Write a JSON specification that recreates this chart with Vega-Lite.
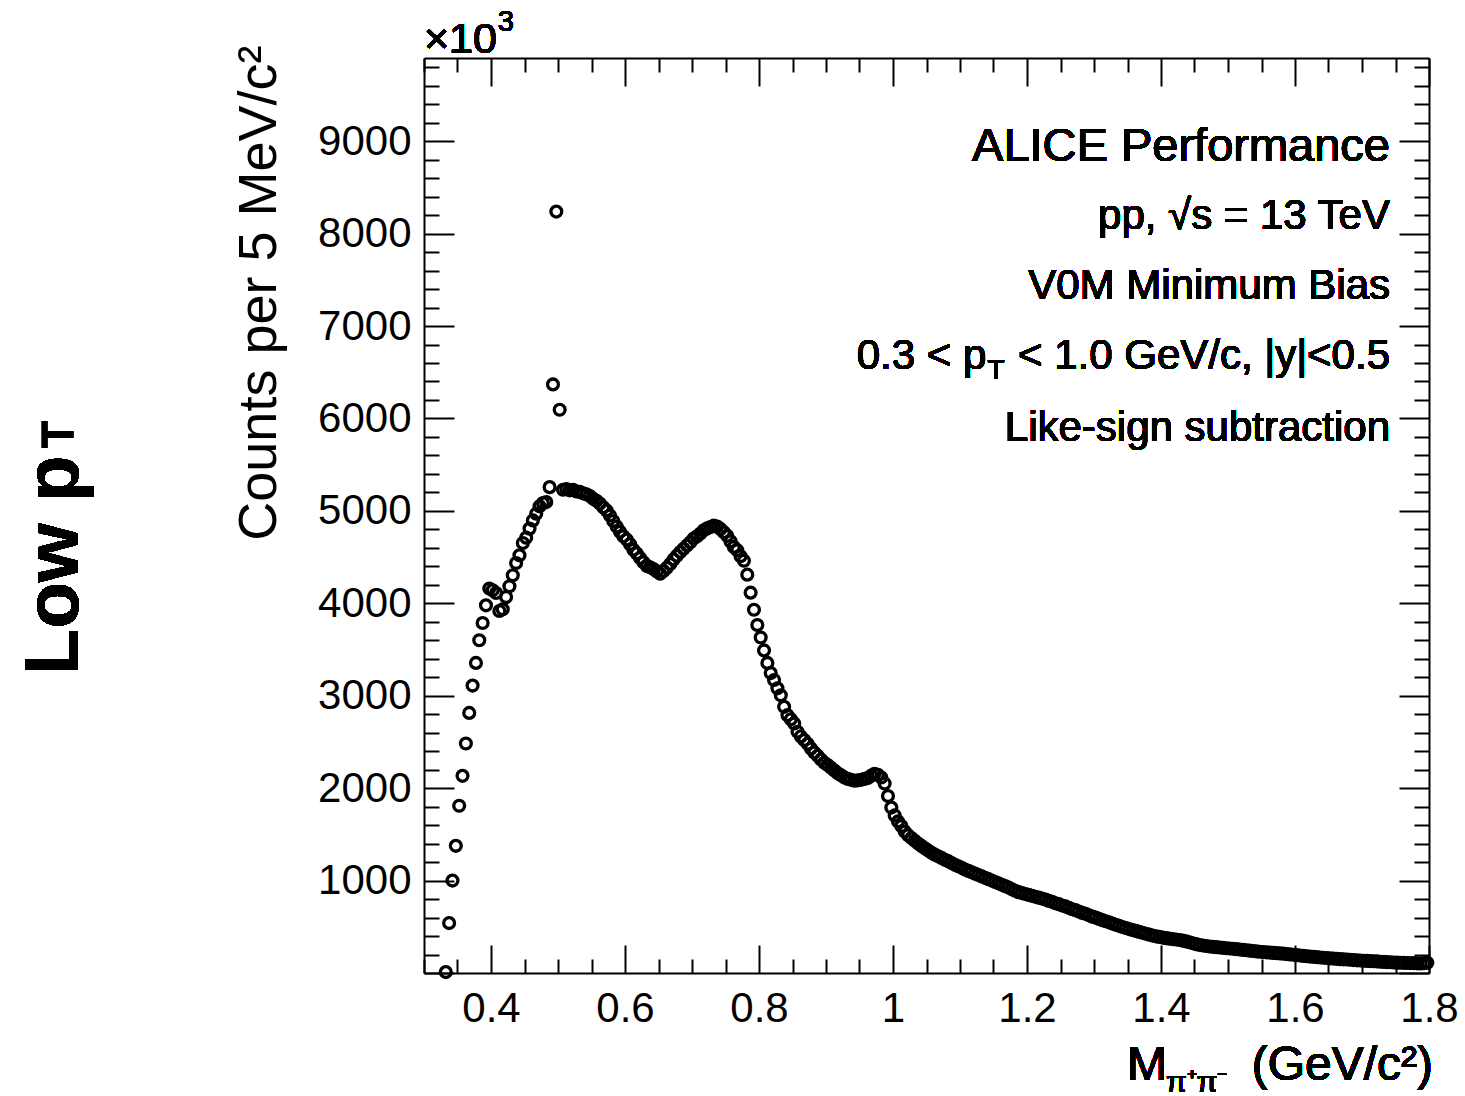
{
  "$schema": "https://vega.github.io/schema/vega-lite/v6.json",
  "width": 1005,
  "height": 915,
  "autosize": "none",
  "padding": {"left": 424, "top": 58, "right": 36, "bottom": 123},
  "background": "white",
  "config": {"view": {"stroke": null}, "font": "Liberation Sans", "text": {"font": "Liberation Sans", "color": "black"}},
  "data": {"values": [
    {"m":0.3325,"c":10},{"m":0.3375,"c":540},{"m":0.3425,"c":1000},{"m":0.3475,"c":1376},{"m":0.3525,"c":1810},
    {"m":0.3575,"c":2133},{"m":0.3625,"c":2483},{"m":0.3675,"c":2814},{"m":0.3725,"c":3110},{"m":0.3775,"c":3355},
    {"m":0.3825,"c":3600},{"m":0.3875,"c":3787},{"m":0.3925,"c":3978},{"m":0.3975,"c":4159},{"m":0.4025,"c":4140},
    {"m":0.4075,"c":4111},{"m":0.4125,"c":3917},{"m":0.4175,"c":3935},{"m":0.4225,"c":4068},{"m":0.4275,"c":4184},
    {"m":0.4325,"c":4303},{"m":0.4375,"c":4436},{"m":0.4425,"c":4519},{"m":0.4475,"c":4652},{"m":0.4525,"c":4710},
    {"m":0.4575,"c":4808},{"m":0.4625,"c":4897},{"m":0.4675,"c":4970},{"m":0.4725,"c":5049},{"m":0.4775,"c":5084},
    {"m":0.4825,"c":5095},{"m":0.4875,"c":5257},{"m":0.4925,"c":6368},{"m":0.4975,"c":8238},{"m":0.5025,"c":6094},
    {"m":0.5075,"c":5229},{"m":0.5125,"c":5235},{"m":0.5175,"c":5222},{"m":0.5225,"c":5228},{"m":0.5275,"c":5210},
    {"m":0.5325,"c":5205},{"m":0.5375,"c":5190},{"m":0.5425,"c":5180},{"m":0.5475,"c":5160},{"m":0.5525,"c":5130},
    {"m":0.5575,"c":5110},{"m":0.5625,"c":5080},{"m":0.5675,"c":5040},{"m":0.5725,"c":5005},{"m":0.5775,"c":4950},
    {"m":0.5825,"c":4890},{"m":0.5875,"c":4830},{"m":0.5925,"c":4775},{"m":0.5975,"c":4725},{"m":0.6025,"c":4690},
    {"m":0.6075,"c":4640},{"m":0.6125,"c":4580},{"m":0.6175,"c":4540},{"m":0.6225,"c":4490},{"m":0.6275,"c":4445},
    {"m":0.6325,"c":4405},{"m":0.6375,"c":4390},{"m":0.6425,"c":4370},{"m":0.6475,"c":4345},{"m":0.6525,"c":4320},
    {"m":0.6575,"c":4350},{"m":0.6625,"c":4385},{"m":0.6675,"c":4425},{"m":0.6725,"c":4475},{"m":0.6775,"c":4515},
    {"m":0.6825,"c":4555},{"m":0.6875,"c":4590},{"m":0.6925,"c":4625},{"m":0.6975,"c":4660},{"m":0.7025,"c":4700},
    {"m":0.7075,"c":4725},{"m":0.7125,"c":4755},{"m":0.7175,"c":4790},{"m":0.7225,"c":4810},{"m":0.7275,"c":4825},
    {"m":0.7325,"c":4840},{"m":0.7375,"c":4830},{"m":0.7425,"c":4805},{"m":0.7475,"c":4770},{"m":0.7525,"c":4730},
    {"m":0.7575,"c":4670},{"m":0.7625,"c":4610},{"m":0.7675,"c":4575},{"m":0.7725,"c":4510},{"m":0.7775,"c":4460},
    {"m":0.7825,"c":4310},{"m":0.7875,"c":4115},{"m":0.7925,"c":3930},{"m":0.7975,"c":3765},{"m":0.8025,"c":3630},
    {"m":0.8075,"c":3490},{"m":0.8125,"c":3355},{"m":0.8175,"c":3245},{"m":0.8225,"c":3170},{"m":0.8275,"c":3080},
    {"m":0.8325,"c":3005},{"m":0.8375,"c":2880},{"m":0.8425,"c":2790},{"m":0.8475,"c":2745},{"m":0.8525,"c":2700},
    {"m":0.8575,"c":2610},{"m":0.8625,"c":2560},{"m":0.8675,"c":2520},{"m":0.8725,"c":2480},{"m":0.8775,"c":2430},
    {"m":0.8825,"c":2385},{"m":0.8875,"c":2350},{"m":0.8925,"c":2310},{"m":0.8975,"c":2275},{"m":0.9025,"c":2250},
    {"m":0.9075,"c":2220},{"m":0.9125,"c":2190},{"m":0.9175,"c":2160},{"m":0.9225,"c":2140},{"m":0.9275,"c":2115},
    {"m":0.9325,"c":2100},{"m":0.9375,"c":2090},{"m":0.9425,"c":2080},{"m":0.9475,"c":2085},{"m":0.9525,"c":2090},
    {"m":0.9575,"c":2100},{"m":0.9625,"c":2110},{"m":0.9675,"c":2135},{"m":0.9725,"c":2155},{"m":0.9775,"c":2145},
    {"m":0.9825,"c":2115},{"m":0.9875,"c":2050},{"m":0.9925,"c":1915},{"m":0.9975,"c":1790},{"m":1.0025,"c":1705},
    {"m":1.0075,"c":1640},{"m":1.0125,"c":1590},{"m":1.0175,"c":1530},{"m":1.0225,"c":1490},{"m":1.0275,"c":1460},
    {"m":1.0325,"c":1430},{"m":1.0375,"c":1400},{"m":1.0425,"c":1375},{"m":1.0475,"c":1350},{"m":1.0525,"c":1325},
    {"m":1.0575,"c":1300},{"m":1.0625,"c":1280},{"m":1.0675,"c":1262},{"m":1.0725,"c":1245},{"m":1.0775,"c":1225},
    {"m":1.0825,"c":1210},{"m":1.0875,"c":1190},{"m":1.0925,"c":1170},{"m":1.0975,"c":1155},{"m":1.1025,"c":1138},
    {"m":1.1075,"c":1120},{"m":1.1125,"c":1105},{"m":1.1175,"c":1090},{"m":1.1225,"c":1075},{"m":1.1275,"c":1060},
    {"m":1.1325,"c":1045},{"m":1.1375,"c":1030},{"m":1.1425,"c":1015},{"m":1.1475,"c":1000},{"m":1.1525,"c":985},
    {"m":1.1575,"c":970},{"m":1.1625,"c":955},{"m":1.1675,"c":940},{"m":1.1725,"c":925},{"m":1.1775,"c":905},
    {"m":1.1825,"c":890},{"m":1.1875,"c":875},{"m":1.1925,"c":865},{"m":1.1975,"c":855},{"m":1.2025,"c":845},
    {"m":1.2075,"c":835},{"m":1.2125,"c":825},{"m":1.2175,"c":815},{"m":1.2225,"c":805},{"m":1.2275,"c":795},
    {"m":1.2325,"c":780},{"m":1.2375,"c":770},{"m":1.2425,"c":755},{"m":1.2475,"c":745},{"m":1.2525,"c":730},
    {"m":1.2575,"c":720},{"m":1.2625,"c":705},{"m":1.2675,"c":690},{"m":1.2725,"c":680},{"m":1.2775,"c":665},
    {"m":1.2825,"c":650},{"m":1.2875,"c":640},{"m":1.2925,"c":625},{"m":1.2975,"c":610},{"m":1.3025,"c":600},
    {"m":1.3075,"c":585},{"m":1.3125,"c":572},{"m":1.3175,"c":560},{"m":1.3225,"c":548},{"m":1.3275,"c":535},
    {"m":1.3325,"c":522},{"m":1.3375,"c":510},{"m":1.3425,"c":498},{"m":1.3475,"c":487},{"m":1.3525,"c":475},
    {"m":1.3575,"c":465},{"m":1.3625,"c":455},{"m":1.3675,"c":445},{"m":1.3725,"c":435},{"m":1.3775,"c":425},
    {"m":1.3825,"c":415},{"m":1.3875,"c":405},{"m":1.3925,"c":397},{"m":1.3975,"c":390},{"m":1.4025,"c":383},
    {"m":1.4075,"c":377},{"m":1.4125,"c":372},{"m":1.4175,"c":367},{"m":1.4225,"c":362},{"m":1.4275,"c":357},
    {"m":1.4325,"c":350},{"m":1.4375,"c":342},{"m":1.4425,"c":333},{"m":1.4475,"c":322},{"m":1.4525,"c":312},
    {"m":1.4575,"c":303},{"m":1.4625,"c":298},{"m":1.4675,"c":292},{"m":1.4725,"c":287},{"m":1.4775,"c":283},
    {"m":1.4825,"c":280},{"m":1.4875,"c":276},{"m":1.4925,"c":272},{"m":1.4975,"c":268},{"m":1.5025,"c":265},
    {"m":1.5075,"c":262},{"m":1.5125,"c":258},{"m":1.5175,"c":254},{"m":1.5225,"c":250},{"m":1.5275,"c":246},
    {"m":1.5325,"c":242},{"m":1.5375,"c":238},{"m":1.5425,"c":234},{"m":1.5475,"c":230},{"m":1.5525,"c":227},
    {"m":1.5575,"c":224},{"m":1.5625,"c":221},{"m":1.5675,"c":218},{"m":1.5725,"c":215},{"m":1.5775,"c":212},
    {"m":1.5825,"c":209},{"m":1.5875,"c":205},{"m":1.5925,"c":201},{"m":1.5975,"c":197},{"m":1.6025,"c":193},
    {"m":1.6075,"c":189},{"m":1.6125,"c":185},{"m":1.6175,"c":181},{"m":1.6225,"c":178},{"m":1.6275,"c":175},
    {"m":1.6325,"c":172},{"m":1.6375,"c":168},{"m":1.6425,"c":165},{"m":1.6475,"c":162},{"m":1.6525,"c":159},
    {"m":1.6575,"c":156},{"m":1.6625,"c":153},{"m":1.6675,"c":150},{"m":1.6725,"c":148},{"m":1.6775,"c":146},
    {"m":1.6825,"c":143},{"m":1.6875,"c":140},{"m":1.6925,"c":137},{"m":1.6975,"c":135},{"m":1.7025,"c":133},
    {"m":1.7075,"c":131},{"m":1.7125,"c":129},{"m":1.7175,"c":127},{"m":1.7225,"c":125},{"m":1.7275,"c":122},
    {"m":1.7325,"c":120},{"m":1.7375,"c":118},{"m":1.7425,"c":116},{"m":1.7475,"c":114},{"m":1.7525,"c":112},
    {"m":1.7575,"c":111},{"m":1.7625,"c":110},{"m":1.7675,"c":108},{"m":1.7725,"c":107},{"m":1.7775,"c":106},
    {"m":1.7825,"c":105},{"m":1.7875,"c":104},{"m":1.7925,"c":106},{"m":1.7975,"c":111}
  ]},
  "resolve": {"axis": {"x": "independent", "y": "independent"}},
  "layer": [
    {
      "mark": {"type": "point", "shape": "circle", "filled": false, "stroke": "black", "strokeWidth": 3.3, "size": 118, "opacity": 1},
      "encoding": {
        "x": {"field": "m", "type": "quantitative", "scale": {"domain": [0.3, 1.8], "nice": false, "zero": false},
          "axis": {"orient": "bottom", "title": null, "grid": false,
            "values": [0.3,0.35,0.4,0.45,0.5,0.55,0.6,0.65,0.7,0.75,0.8,0.85,0.9,0.95,1,1.05,1.1,1.15,1.2,1.25,1.3,1.35,1.4,1.45,1.5,1.55,1.6,1.65,1.7,1.75,1.8],
            "labelExpr": "abs(datum.value*5 - round(datum.value*5)) < 0.000001 && datum.value > 0.35 ? format(datum.value, '~g') : ''",
            "tickSize": {"condition": {"test": "abs(datum.value*5 - round(datum.value*5)) < 0.000001", "value": -28}, "value": -14},
            "tickColor": "black", "tickWidth": 2, "domainColor": "black", "domainWidth": 2,
            "labelFont": "Liberation Sans", "labelFontSize": 42, "labelColor": "black", "labelPadding": 43,
            "labelFlush": false, "labelOverlap": false, "labelBound": false}},
        "y": {"field": "c", "type": "quantitative", "scale": {"domain": [0, 9900], "nice": false, "zero": false},
          "axis": {"orient": "left", "grid": false,
            "values": [0,200,400,600,800,1000,1200,1400,1600,1800,2000,2200,2400,2600,2800,3000,3200,3400,3600,3800,4000,4200,4400,4600,4800,5000,5200,5400,5600,5800,6000,6200,6400,6600,6800,7000,7200,7400,7600,7800,8000,8200,8400,8600,8800,9000,9200,9400,9600,9800],
            "labelExpr": "datum.value % 1000 === 0 && datum.value > 0 ? format(datum.value, 'd') : ''",
            "tickSize": {"condition": {"test": "datum.value % 1000 === 0", "value": -30}, "value": -15},
            "tickColor": "black", "tickWidth": 2, "domainColor": "black", "domainWidth": 2,
            "labelFont": "Liberation Sans", "labelFontSize": 42, "labelColor": "black", "labelPadding": 43,
            "labelOverlap": false, "labelBound": false, "labelFlush": false,
            "title": "Counts per 5 MeV/c²", "titleFont": "Liberation Sans", "titleFontSize": 54, "titleFontWeight": "normal",
            "titleColor": "black", "titleAngle": 270, "titleAlign": "right", "titleBaseline": "alphabetic",
            "titleX": -149, "titleY": -13}}
      }
    },
    {
      "mark": {"type": "point", "opacity": 0},
      "encoding": {
        "x": {"field": "m", "type": "quantitative", "scale": {"domain": [0.3, 1.8], "nice": false, "zero": false},
          "axis": {"orient": "top", "title": null, "grid": false, "labels": false,
            "values": [0.3,0.35,0.4,0.45,0.5,0.55,0.6,0.65,0.7,0.75,0.8,0.85,0.9,0.95,1,1.05,1.1,1.15,1.2,1.25,1.3,1.35,1.4,1.45,1.5,1.55,1.6,1.65,1.7,1.75,1.8],
            "tickSize": {"condition": {"test": "abs(datum.value*5 - round(datum.value*5)) < 0.000001", "value": -28}, "value": -14},
            "tickColor": "black", "tickWidth": 2, "domainColor": "black", "domainWidth": 2}},
        "y": {"field": "c", "type": "quantitative", "scale": {"domain": [0, 9900], "nice": false, "zero": false},
          "axis": {"orient": "right", "title": null, "grid": false, "labels": false,
            "values": [0,200,400,600,800,1000,1200,1400,1600,1800,2000,2200,2400,2600,2800,3000,3200,3400,3600,3800,4000,4200,4400,4600,4800,5000,5200,5400,5600,5800,6000,6200,6400,6600,6800,7000,7200,7400,7600,7800,8000,8200,8400,8600,8800,9000,9200,9400,9600,9800],
            "tickSize": {"condition": {"test": "datum.value % 1000 === 0", "value": -30}, "value": -15},
            "tickColor": "black", "tickWidth": 2, "domainColor": "black", "domainWidth": 2}}
      }
    },
    {
      "mark": {"type": "text", "text": "ALICE Performance", "align": "right", "baseline": "alphabetic", "fontSize": 47},
      "encoding": {
        "x": {"datum": 1.7418, "type": "quantitative", "axis": null, "scale": {"domain": [0.3, 1.8], "nice": false, "zero": false}},
        "y": {"datum": 8786, "type": "quantitative", "axis": null, "scale": {"domain": [0, 9900], "nice": false, "zero": false}}}
    },
    {
      "mark": {"type": "text", "text": "pp,  √s = 13 TeV", "align": "right", "baseline": "alphabetic", "fontSize": 42},
      "encoding": {
        "x": {"datum": 1.7418, "type": "quantitative", "axis": null, "scale": {"domain": [0.3, 1.8], "nice": false, "zero": false}},
        "y": {"datum": 8050, "type": "quantitative", "axis": null, "scale": {"domain": [0, 9900], "nice": false, "zero": false}}}
    },
    {
      "mark": {"type": "text", "text": "V0M Minimum Bias", "align": "right", "baseline": "alphabetic", "fontSize": 42},
      "encoding": {
        "x": {"datum": 1.7418, "type": "quantitative", "axis": null, "scale": {"domain": [0.3, 1.8], "nice": false, "zero": false}},
        "y": {"datum": 7293, "type": "quantitative", "axis": null, "scale": {"domain": [0, 9900], "nice": false, "zero": false}}}
    },
    {
      "mark": {"type": "text", "text": " < 1.0 GeV/c, |y|<0.5", "align": "right", "baseline": "alphabetic", "fontSize": 42},
      "encoding": {
        "x": {"datum": 1.7418, "type": "quantitative", "axis": null, "scale": {"domain": [0.3, 1.8], "nice": false, "zero": false}},
        "y": {"datum": 6535, "type": "quantitative", "axis": null, "scale": {"domain": [0, 9900], "nice": false, "zero": false}}}
    },
    {
      "mark": {"type": "text", "text": "T", "align": "right", "baseline": "alphabetic", "fontSize": 28},
      "encoding": {
        "x": {"datum": 1.1667, "type": "quantitative", "axis": null, "scale": {"domain": [0.3, 1.8], "nice": false, "zero": false}},
        "y": {"datum": 6427, "type": "quantitative", "axis": null, "scale": {"domain": [0, 9900], "nice": false, "zero": false}}}
    },
    {
      "mark": {"type": "text", "text": "0.3 < p", "align": "right", "baseline": "alphabetic", "fontSize": 42},
      "encoding": {
        "x": {"datum": 1.1393, "type": "quantitative", "axis": null, "scale": {"domain": [0.3, 1.8], "nice": false, "zero": false}},
        "y": {"datum": 6535, "type": "quantitative", "axis": null, "scale": {"domain": [0, 9900], "nice": false, "zero": false}}}
    },
    {
      "mark": {"type": "text", "text": "Like-sign subtraction", "align": "right", "baseline": "alphabetic", "fontSize": 42},
      "encoding": {
        "x": {"datum": 1.7418, "type": "quantitative", "axis": null, "scale": {"domain": [0.3, 1.8], "nice": false, "zero": false}},
        "y": {"datum": 5756, "type": "quantitative", "axis": null, "scale": {"domain": [0, 9900], "nice": false, "zero": false}}}
    },
    {
      "mark": {"type": "text", "text": "×10", "align": "left", "baseline": "alphabetic", "fontSize": 43},
      "encoding": {
        "x": {"datum": 0.3, "type": "quantitative", "axis": null, "scale": {"domain": [0.3, 1.8], "nice": false, "zero": false}},
        "y": {"datum": 9954, "type": "quantitative", "axis": null, "scale": {"domain": [0, 9900], "nice": false, "zero": false}}}
    },
    {
      "mark": {"type": "text", "text": "3", "align": "left", "baseline": "alphabetic", "fontSize": 29},
      "encoding": {
        "x": {"datum": 0.41, "type": "quantitative", "axis": null, "scale": {"domain": [0.3, 1.8], "nice": false, "zero": false}},
        "y": {"datum": 10192, "type": "quantitative", "axis": null, "scale": {"domain": [0, 9900], "nice": false, "zero": false}}}
    },
    {
      "mark": {"type": "text", "text": "M", "align": "left", "baseline": "alphabetic", "fontSize": 48},
      "encoding": {
        "x": {"datum": 1.3493, "type": "quantitative", "axis": null, "scale": {"domain": [0.3, 1.8], "nice": false, "zero": false}},
        "y": {"datum": -1158, "type": "quantitative", "axis": null, "scale": {"domain": [0, 9900], "nice": false, "zero": false}}}
    },
    {
      "mark": {"type": "text", "text": "π⁺π⁻", "align": "left", "baseline": "alphabetic", "fontSize": 30},
      "encoding": {
        "x": {"datum": 1.4075, "type": "quantitative", "axis": null, "scale": {"domain": [0.3, 1.8], "nice": false, "zero": false}},
        "y": {"datum": -1288, "type": "quantitative", "axis": null, "scale": {"domain": [0, 9900], "nice": false, "zero": false}}}
    },
    {
      "mark": {"type": "text", "text": "(GeV/c²)", "align": "right", "baseline": "alphabetic", "fontSize": 48},
      "encoding": {
        "x": {"datum": 1.806, "type": "quantitative", "axis": null, "scale": {"domain": [0.3, 1.8], "nice": false, "zero": false}},
        "y": {"datum": -1158, "type": "quantitative", "axis": null, "scale": {"domain": [0, 9900], "nice": false, "zero": false}}}
    },
    {
      "mark": {"type": "text", "text": "Low p", "align": "left", "baseline": "alphabetic", "fontSize": 76, "fontWeight": "bold", "angle": 270},
      "encoding": {
        "x": {"datum": -0.2164, "type": "quantitative", "axis": null, "scale": {"domain": [0.3, 1.8], "nice": false, "zero": false}},
        "y": {"datum": 3224, "type": "quantitative", "axis": null, "scale": {"domain": [0, 9900], "nice": false, "zero": false}}}
    },
    {
      "mark": {"type": "text", "text": "T", "align": "left", "baseline": "alphabetic", "fontSize": 44, "fontWeight": "bold", "angle": 270},
      "encoding": {
        "x": {"datum": -0.2239, "type": "quantitative", "axis": null, "scale": {"domain": [0.3, 1.8], "nice": false, "zero": false}},
        "y": {"datum": 5680, "type": "quantitative", "axis": null, "scale": {"domain": [0, 9900], "nice": false, "zero": false}}}
    }
  ]
}
